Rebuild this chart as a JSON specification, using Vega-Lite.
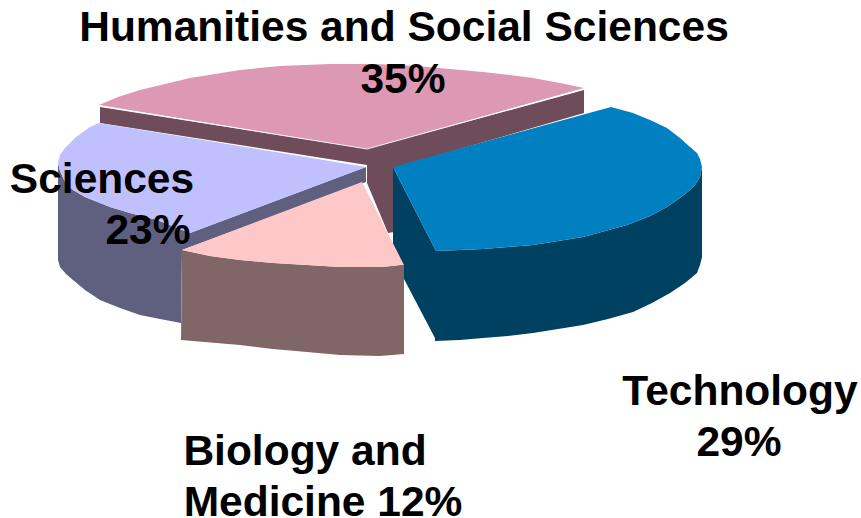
{"$schema":"https://vega.github.io/schema/vega-lite/v6.json","width":861,"height":518,"padding":0,"autosize":"none","background":"white","view":{"stroke":null},
"datasets":{
"shapes":[
{"part":"Humanities wall right","sector":"Humanities and Social Sciences","share":35,"n":1,"x":367,"y":149},{"part":"Humanities wall right","sector":"Humanities and Social Sciences","share":35,"n":2,"x":584,"y":90},{"part":"Humanities wall right","sector":"Humanities and Social Sciences","share":35,"n":3,"x":584,"y":113},{"part":"Humanities wall right","sector":"Humanities and Social Sciences","share":35,"n":4,"x":394,"y":168},{"part":"Humanities wall right","sector":"Humanities and Social Sciences","share":35,"n":5,"x":394,"y":232},{"part":"Humanities wall right","sector":"Humanities and Social Sciences","share":35,"n":6,"x":388,"y":233},{"part":"Humanities wall right","sector":"Humanities and Social Sciences","share":35,"n":7,"x":367,"y":183},
{"part":"Humanities wall left","sector":"Humanities and Social Sciences","share":35,"n":1,"x":100,"y":107},{"part":"Humanities wall left","sector":"Humanities and Social Sciences","share":35,"n":2,"x":367,"y":149},{"part":"Humanities wall left","sector":"Humanities and Social Sciences","share":35,"n":3,"x":367,"y":165},{"part":"Humanities wall left","sector":"Humanities and Social Sciences","share":35,"n":4,"x":100,"y":123},
{"part":"Humanities top","sector":"Humanities and Social Sciences","share":35,"n":1,"x":99,"y":105},{"part":"Humanities top","sector":"Humanities and Social Sciences","share":35,"n":2,"x":118,"y":97},{"part":"Humanities top","sector":"Humanities and Social Sciences","share":35,"n":3,"x":140,"y":90},{"part":"Humanities top","sector":"Humanities and Social Sciences","share":35,"n":4,"x":165,"y":84},{"part":"Humanities top","sector":"Humanities and Social Sciences","share":35,"n":5,"x":190,"y":78},{"part":"Humanities top","sector":"Humanities and Social Sciences","share":35,"n":6,"x":215,"y":74},{"part":"Humanities top","sector":"Humanities and Social Sciences","share":35,"n":7,"x":240,"y":70},{"part":"Humanities top","sector":"Humanities and Social Sciences","share":35,"n":8,"x":280,"y":66},{"part":"Humanities top","sector":"Humanities and Social Sciences","share":35,"n":9,"x":330,"y":64},{"part":"Humanities top","sector":"Humanities and Social Sciences","share":35,"n":10,"x":375,"y":64},{"part":"Humanities top","sector":"Humanities and Social Sciences","share":35,"n":11,"x":417,"y":66},{"part":"Humanities top","sector":"Humanities and Social Sciences","share":35,"n":12,"x":450,"y":69},{"part":"Humanities top","sector":"Humanities and Social Sciences","share":35,"n":13,"x":483,"y":72},{"part":"Humanities top","sector":"Humanities and Social Sciences","share":35,"n":14,"x":510,"y":75},{"part":"Humanities top","sector":"Humanities and Social Sciences","share":35,"n":15,"x":533,"y":78},{"part":"Humanities top","sector":"Humanities and Social Sciences","share":35,"n":16,"x":560,"y":83},{"part":"Humanities top","sector":"Humanities and Social Sciences","share":35,"n":17,"x":584,"y":88},{"part":"Humanities top","sector":"Humanities and Social Sciences","share":35,"n":18,"x":367,"y":149},
{"part":"Sciences side","sector":"Sciences","share":23,"n":1,"x":58,"y":163},{"part":"Sciences side","sector":"Sciences","share":23,"n":2,"x":60,"y":171},{"part":"Sciences side","sector":"Sciences","share":23,"n":3,"x":65,"y":182},{"part":"Sciences side","sector":"Sciences","share":23,"n":4,"x":73,"y":190},{"part":"Sciences side","sector":"Sciences","share":23,"n":5,"x":85,"y":197},{"part":"Sciences side","sector":"Sciences","share":23,"n":6,"x":110,"y":207},{"part":"Sciences side","sector":"Sciences","share":23,"n":7,"x":130,"y":213},{"part":"Sciences side","sector":"Sciences","share":23,"n":8,"x":157,"y":220},{"part":"Sciences side","sector":"Sciences","share":23,"n":9,"x":190,"y":233},{"part":"Sciences side","sector":"Sciences","share":23,"n":10,"x":366,"y":167},{"part":"Sciences side","sector":"Sciences","share":23,"n":11,"x":366,"y":182},{"part":"Sciences side","sector":"Sciences","share":23,"n":12,"x":182,"y":250},{"part":"Sciences side","sector":"Sciences","share":23,"n":13,"x":181,"y":323},{"part":"Sciences side","sector":"Sciences","share":23,"n":14,"x":160,"y":319},{"part":"Sciences side","sector":"Sciences","share":23,"n":15,"x":140,"y":315},{"part":"Sciences side","sector":"Sciences","share":23,"n":16,"x":120,"y":308},{"part":"Sciences side","sector":"Sciences","share":23,"n":17,"x":100,"y":300},{"part":"Sciences side","sector":"Sciences","share":23,"n":18,"x":85,"y":290},{"part":"Sciences side","sector":"Sciences","share":23,"n":19,"x":73,"y":280},{"part":"Sciences side","sector":"Sciences","share":23,"n":20,"x":66,"y":274},{"part":"Sciences side","sector":"Sciences","share":23,"n":21,"x":60,"y":267},{"part":"Sciences side","sector":"Sciences","share":23,"n":22,"x":58,"y":260},
{"part":"Sciences top","sector":"Sciences","share":23,"n":1,"x":99,"y":123},{"part":"Sciences top","sector":"Sciences","share":23,"n":2,"x":366,"y":167},{"part":"Sciences top","sector":"Sciences","share":23,"n":3,"x":190,"y":233},{"part":"Sciences top","sector":"Sciences","share":23,"n":4,"x":157,"y":220},{"part":"Sciences top","sector":"Sciences","share":23,"n":5,"x":130,"y":213},{"part":"Sciences top","sector":"Sciences","share":23,"n":6,"x":110,"y":207},{"part":"Sciences top","sector":"Sciences","share":23,"n":7,"x":85,"y":197},{"part":"Sciences top","sector":"Sciences","share":23,"n":8,"x":73,"y":190},{"part":"Sciences top","sector":"Sciences","share":23,"n":9,"x":65,"y":182},{"part":"Sciences top","sector":"Sciences","share":23,"n":10,"x":60,"y":171},{"part":"Sciences top","sector":"Sciences","share":23,"n":11,"x":58,"y":163},{"part":"Sciences top","sector":"Sciences","share":23,"n":12,"x":60,"y":155},{"part":"Sciences top","sector":"Sciences","share":23,"n":13,"x":65,"y":148},{"part":"Sciences top","sector":"Sciences","share":23,"n":14,"x":76,"y":137},{"part":"Sciences top","sector":"Sciences","share":23,"n":15,"x":90,"y":127},
{"part":"Technology wall","sector":"Technology","share":29,"n":1,"x":393,"y":167},{"part":"Technology wall","sector":"Technology","share":29,"n":2,"x":436,"y":251},{"part":"Technology wall","sector":"Technology","share":29,"n":3,"x":436,"y":340},{"part":"Technology wall","sector":"Technology","share":29,"n":4,"x":393,"y":258},
{"part":"Technology side","sector":"Technology","share":29,"n":1,"x":436,"y":251},{"part":"Technology side","sector":"Technology","share":29,"n":2,"x":460,"y":250},{"part":"Technology side","sector":"Technology","share":29,"n":3,"x":483,"y":249},{"part":"Technology side","sector":"Technology","share":29,"n":4,"x":508,"y":247},{"part":"Technology side","sector":"Technology","share":29,"n":5,"x":533,"y":245},{"part":"Technology side","sector":"Technology","share":29,"n":6,"x":558,"y":241},{"part":"Technology side","sector":"Technology","share":29,"n":7,"x":583,"y":237},{"part":"Technology side","sector":"Technology","share":29,"n":8,"x":605,"y":231},{"part":"Technology side","sector":"Technology","share":29,"n":9,"x":627,"y":225},{"part":"Technology side","sector":"Technology","share":29,"n":10,"x":650,"y":216},{"part":"Technology side","sector":"Technology","share":29,"n":11,"x":667,"y":207},{"part":"Technology side","sector":"Technology","share":29,"n":12,"x":680,"y":198},{"part":"Technology side","sector":"Technology","share":29,"n":13,"x":690,"y":190},{"part":"Technology side","sector":"Technology","share":29,"n":14,"x":695,"y":185},{"part":"Technology side","sector":"Technology","share":29,"n":15,"x":700,"y":177},{"part":"Technology side","sector":"Technology","share":29,"n":16,"x":702,"y":167},{"part":"Technology side","sector":"Technology","share":29,"n":17,"x":702,"y":257},{"part":"Technology side","sector":"Technology","share":29,"n":18,"x":700,"y":265},{"part":"Technology side","sector":"Technology","share":29,"n":19,"x":697,"y":273},{"part":"Technology side","sector":"Technology","share":29,"n":20,"x":685,"y":283},{"part":"Technology side","sector":"Technology","share":29,"n":21,"x":670,"y":293},{"part":"Technology side","sector":"Technology","share":29,"n":22,"x":652,"y":303},{"part":"Technology side","sector":"Technology","share":29,"n":23,"x":633,"y":312},{"part":"Technology side","sector":"Technology","share":29,"n":24,"x":608,"y":319},{"part":"Technology side","sector":"Technology","share":29,"n":25,"x":583,"y":325},{"part":"Technology side","sector":"Technology","share":29,"n":26,"x":558,"y":329},{"part":"Technology side","sector":"Technology","share":29,"n":27,"x":533,"y":333},{"part":"Technology side","sector":"Technology","share":29,"n":28,"x":508,"y":336},{"part":"Technology side","sector":"Technology","share":29,"n":29,"x":483,"y":338},{"part":"Technology side","sector":"Technology","share":29,"n":30,"x":460,"y":340},{"part":"Technology side","sector":"Technology","share":29,"n":31,"x":435,"y":341},
{"part":"Technology top","sector":"Technology","share":29,"n":1,"x":393,"y":167},{"part":"Technology top","sector":"Technology","share":29,"n":2,"x":611,"y":107},{"part":"Technology top","sector":"Technology","share":29,"n":3,"x":622,"y":110},{"part":"Technology top","sector":"Technology","share":29,"n":4,"x":633,"y":113},{"part":"Technology top","sector":"Technology","share":29,"n":5,"x":650,"y":120},{"part":"Technology top","sector":"Technology","share":29,"n":6,"x":667,"y":128},{"part":"Technology top","sector":"Technology","share":29,"n":7,"x":680,"y":138},{"part":"Technology top","sector":"Technology","share":29,"n":8,"x":690,"y":147},{"part":"Technology top","sector":"Technology","share":29,"n":9,"x":697,"y":153},{"part":"Technology top","sector":"Technology","share":29,"n":10,"x":700,"y":159},{"part":"Technology top","sector":"Technology","share":29,"n":11,"x":702,"y":167},{"part":"Technology top","sector":"Technology","share":29,"n":12,"x":700,"y":177},{"part":"Technology top","sector":"Technology","share":29,"n":13,"x":695,"y":185},{"part":"Technology top","sector":"Technology","share":29,"n":14,"x":690,"y":190},{"part":"Technology top","sector":"Technology","share":29,"n":15,"x":680,"y":198},{"part":"Technology top","sector":"Technology","share":29,"n":16,"x":667,"y":207},{"part":"Technology top","sector":"Technology","share":29,"n":17,"x":650,"y":216},{"part":"Technology top","sector":"Technology","share":29,"n":18,"x":627,"y":225},{"part":"Technology top","sector":"Technology","share":29,"n":19,"x":605,"y":231},{"part":"Technology top","sector":"Technology","share":29,"n":20,"x":583,"y":237},{"part":"Technology top","sector":"Technology","share":29,"n":21,"x":558,"y":241},{"part":"Technology top","sector":"Technology","share":29,"n":22,"x":533,"y":245},{"part":"Technology top","sector":"Technology","share":29,"n":23,"x":508,"y":247},{"part":"Technology top","sector":"Technology","share":29,"n":24,"x":483,"y":249},{"part":"Technology top","sector":"Technology","share":29,"n":25,"x":460,"y":250},{"part":"Technology top","sector":"Technology","share":29,"n":26,"x":436,"y":251},
{"part":"Biology side","sector":"Biology and Medicine","share":12,"n":1,"x":182,"y":250},{"part":"Biology side","sector":"Biology and Medicine","share":12,"n":2,"x":210,"y":256},{"part":"Biology side","sector":"Biology and Medicine","share":12,"n":3,"x":240,"y":260},{"part":"Biology side","sector":"Biology and Medicine","share":12,"n":4,"x":273,"y":263},{"part":"Biology side","sector":"Biology and Medicine","share":12,"n":5,"x":307,"y":265},{"part":"Biology side","sector":"Biology and Medicine","share":12,"n":6,"x":340,"y":267},{"part":"Biology side","sector":"Biology and Medicine","share":12,"n":7,"x":380,"y":267},{"part":"Biology side","sector":"Biology and Medicine","share":12,"n":8,"x":404,"y":265},{"part":"Biology side","sector":"Biology and Medicine","share":12,"n":9,"x":404,"y":354},{"part":"Biology side","sector":"Biology and Medicine","share":12,"n":10,"x":380,"y":356},{"part":"Biology side","sector":"Biology and Medicine","share":12,"n":11,"x":340,"y":355},{"part":"Biology side","sector":"Biology and Medicine","share":12,"n":12,"x":307,"y":352},{"part":"Biology side","sector":"Biology and Medicine","share":12,"n":13,"x":273,"y":349},{"part":"Biology side","sector":"Biology and Medicine","share":12,"n":14,"x":240,"y":345},{"part":"Biology side","sector":"Biology and Medicine","share":12,"n":15,"x":181,"y":340},
{"part":"Biology top","sector":"Biology and Medicine","share":12,"n":1,"x":362,"y":182},{"part":"Biology top","sector":"Biology and Medicine","share":12,"n":2,"x":182,"y":250},{"part":"Biology top","sector":"Biology and Medicine","share":12,"n":3,"x":210,"y":256},{"part":"Biology top","sector":"Biology and Medicine","share":12,"n":4,"x":240,"y":260},{"part":"Biology top","sector":"Biology and Medicine","share":12,"n":5,"x":273,"y":263},{"part":"Biology top","sector":"Biology and Medicine","share":12,"n":6,"x":307,"y":265},{"part":"Biology top","sector":"Biology and Medicine","share":12,"n":7,"x":340,"y":267},{"part":"Biology top","sector":"Biology and Medicine","share":12,"n":8,"x":380,"y":267},{"part":"Biology top","sector":"Biology and Medicine","share":12,"n":9,"x":404,"y":265}
],
"edges":[
{"edge":"Humanities rim","n":1,"x":100,"y":106},{"edge":"Humanities rim","n":2,"x":367,"y":149},{"edge":"Humanities rim","n":3,"x":584,"y":89}
],
"labels":[
{"label":"Humanities and Social Sciences","x":404,"y":28},{"label":"35%","x":403,"y":80},{"label":"Sciences","x":102,"y":180},{"label":"23%","x":148,"y":231},{"label":"Technology","x":740,"y":392},{"label":"29%","x":739,"y":443},{"label":"Biology and","x":305,"y":452},{"label":"Medicine 12%","x":323,"y":503}
]},
"layer":[
{"data":{"name":"shapes"},"mark":{"type":"line","filled":true,"strokeWidth":0,"clip":false},
"encoding":{
"x":{"field":"x","type":"quantitative","scale":{"domain":[0,861],"nice":false,"zero":false},"axis":null},
"y":{"field":"y","type":"quantitative","scale":{"domain":[518,0],"nice":false,"zero":false},"axis":null},
"order":{"field":"n","type":"quantitative"},
"fill":{"field":"part","type":"nominal","legend":null,"scale":{"domain":["Humanities wall right","Humanities wall left","Humanities top","Sciences side","Sciences top","Technology wall","Technology side","Technology top","Biology side","Biology top"],"range":["#6F4C5A","#6F4C5A","#DD99B3","#5F6080","#C0C0FF","#004060","#004060","#0080C0","#806666","#FFC8C8"]}}
}},
{"data":{"name":"edges"},"mark":{"type":"line","stroke":"#FFFFFF","strokeWidth":1,"opacity":0.75},
"encoding":{
"x":{"field":"x","type":"quantitative"},
"y":{"field":"y","type":"quantitative"},
"order":{"field":"n","type":"quantitative"},
"detail":{"field":"edge","type":"nominal"}
}},
{"data":{"name":"labels"},"mark":{"type":"text","font":"Liberation Sans","fontWeight":"bold","fontSize":42.5,"color":"#000000","align":"center","baseline":"middle"},
"encoding":{
"x":{"field":"x","type":"quantitative"},
"y":{"field":"y","type":"quantitative"},
"text":{"field":"label","type":"nominal"}
}}
]}
